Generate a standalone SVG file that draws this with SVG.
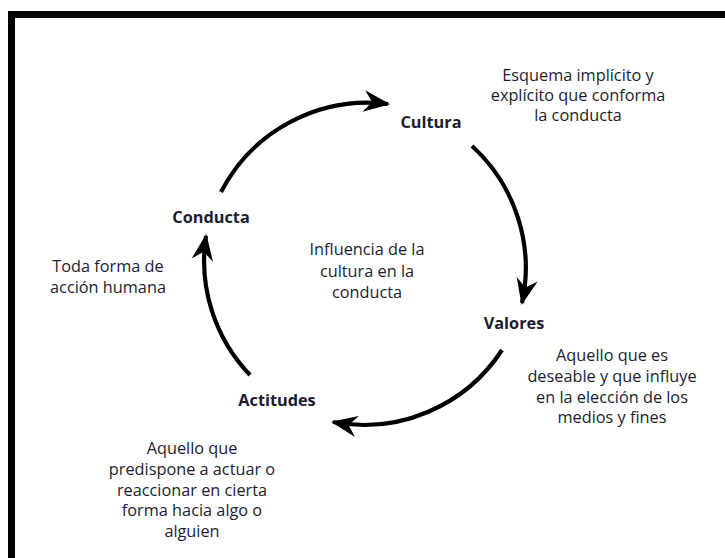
<svg xmlns="http://www.w3.org/2000/svg" width="725" height="558" viewBox="0 0 725 558">
<defs>
<style>
.t{font-family:"Open Sans","Liberation Sans",sans-serif;font-size:16.3px;fill:#1c1c30;text-anchor:middle}
.b{font-weight:bold;font-size:16.3px}
.c{fill:none;stroke:#000;stroke-width:4.2;stroke-linecap:butt}
</style>
<marker id="ah" markerUnits="userSpaceOnUse" markerWidth="30" markerHeight="24" viewBox="-24 -12 28 24" refX="0" refY="0" orient="auto">
<path d="M0,0 L-22,-9 L-15,0 L-22,9 Z" fill="#000" stroke="#000" stroke-width="1.5" stroke-linejoin="miter"/>
</marker>
</defs>
<rect width="725" height="558" fill="#fff"/>
<path d="M11.5,570 V14.5 H740" fill="none" stroke="#000" stroke-width="7"/>
<g id="connectors">
<path class="c" d="M221,192 A165,165 0 0 1 388,104" marker-end="url(#ah)"/>
<path class="c" d="M472,146 A165,165 0 0 1 522,303" marker-end="url(#ah)"/>
<path class="c" d="M502,350 A165,165 0 0 1 333,422" marker-end="url(#ah)"/>
<path class="c" d="M250,375 A165,165 0 0 1 206,236" marker-end="url(#ah)"/>
</g>
<g id="cultura"><text class="t b" x="431" y="128">Cultura</text></g>
<g id="cultura-desc"><text class="t"><tspan x="578" y="81">Esquema implícito y</tspan><tspan x="578" y="101">explícito que conforma</tspan><tspan x="578" y="121">la conducta</tspan></text></g>
<g id="valores"><text class="t b" x="514" y="329">Valores</text></g>
<g id="valores-desc"><text class="t"><tspan x="612" y="361">Aquello que es</tspan><tspan x="612" y="382">deseable y que influye</tspan><tspan x="612" y="403">en la elección de los</tspan><tspan x="612" y="423">medios y fines</tspan></text></g>
<g id="actitudes"><text class="t b" x="277" y="406">Actitudes</text></g>
<g id="actitudes-desc"><text class="t"><tspan x="192" y="454">Aquello que</tspan><tspan x="192" y="475">predispone a actuar o</tspan><tspan x="192" y="496">reaccionar en cierta</tspan><tspan x="192" y="516">forma hacia algo o</tspan><tspan x="192" y="537">alguien</tspan></text></g>
<g id="conducta"><text class="t b" x="211" y="223">Conducta</text></g>
<g id="conducta-desc"><text class="t"><tspan x="108" y="272">Toda forma de</tspan><tspan x="108" y="293">acción humana</tspan></text></g>
<g id="centro"><text class="t"><tspan x="367" y="255">Influencia de la</tspan><tspan x="367" y="277">cultura en la</tspan><tspan x="367" y="298">conducta</tspan></text></g>
</svg>
